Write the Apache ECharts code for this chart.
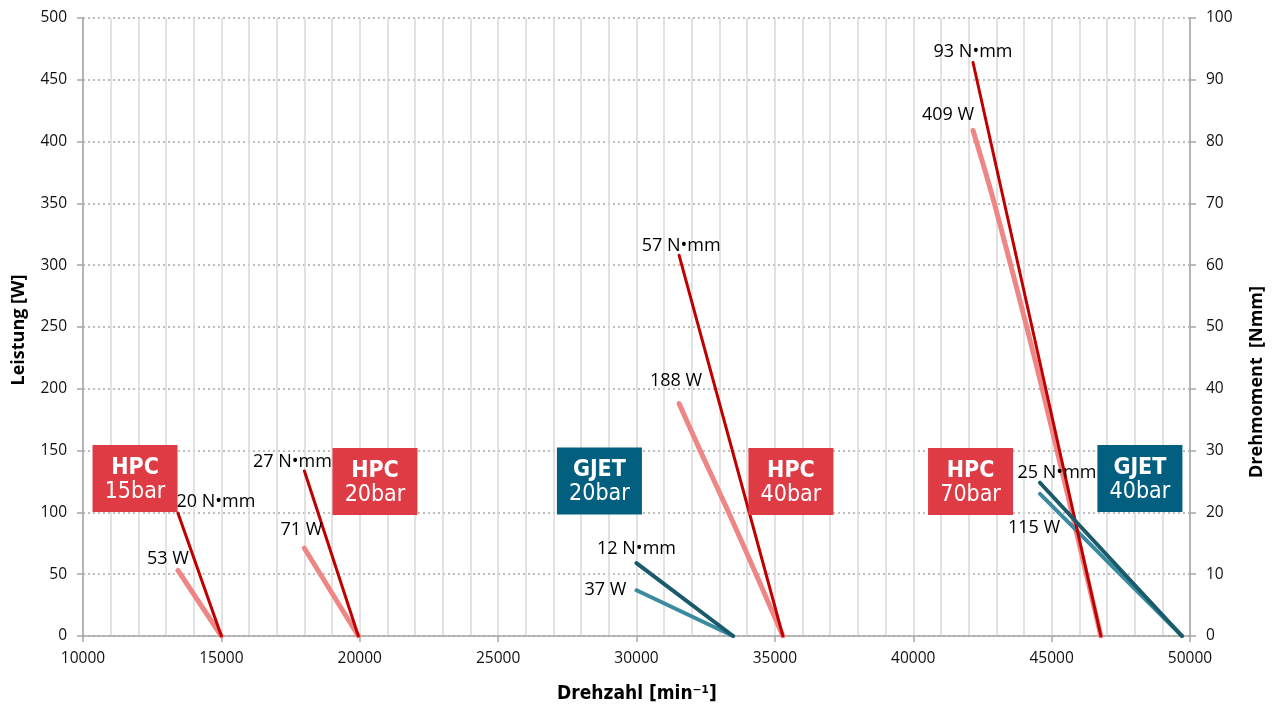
<!DOCTYPE html>
<html><head><meta charset="utf-8">
<script src="https://cdn.jsdelivr.net/npm/echarts@6/dist/echarts.min.js"></script>
<style>html,body{margin:0;padding:0;background:#fff}#c{width:1277px;height:706px}</style>
</head><body><div id="c"></div>
<script>
// ---- data (x = Drehzahl [min-1], power in W on left axis, torque in Nmm on right axis)
const xTicks = [10000, 15000, 20000, 25000, 30000, 35000, 40000, 45000, 50000];
const hpc15TorqueX = [13430, 15000], hpc15Torque = [19.9, 0];
const hpc15PowerX  = [13430, 15000], hpc15Power  = [53, 0];
const hpc20TorqueX = [18000, 19950], hpc20Torque = [26.7, 0];
const hpc20PowerX  = [18000, 19950], hpc20Power  = [71, 0];
const hpc40TorqueX = [31540, 35290], hpc40Torque = [61.6, 0];
const hpc40PowerX  = [31540, 32300, 33330, 34320, 35290], hpc40Power = [188, 150, 100, 50, 0];
const gjet20TorqueX = [30000, 33490], gjet20Torque = [11.8, 0];
const gjet20PowerX  = [30000, 33490], gjet20Power  = [37, 0];
const hpc70TorqueX = [42160, 46780], hpc70Torque = [92.8, 0];
const hpc70PowerX  = [42160, 42930, 44660, 46780], hpc70Power = [409, 350, 200, 0];
const gjet40TorqueX = [44580, 49710], gjet40Torque = [24.8, 0];
const gjet40PowerX  = [44580, 49710], gjet40Power  = [115, 0];

const torqueLabels = ['20 N•mm', '27 N•mm', '57 N•mm', '12 N•mm', '93 N•mm', '25 N•mm'];
const powerLabels  = ['53 W', '71 W', '188 W', '37 W', '409 W', '115 W'];

const boxTitles = ['HPC', 'HPC', 'GJET', 'HPC', 'HPC', 'GJET'];
const boxSubs   = ['15bar', '20bar', '20bar', '40bar', '70bar', '40bar'];
const boxX      = [11880, 20550, 28660, 35580, 42070, 48190];
const boxY      = [127.4, 125, 125.4, 125, 125, 127.4];

// ---- styling
const C_TQ_HPC = '#c00000', C_PW_HPC = '#ef8686';
const C_TQ_GJ = '#1a5a6b', C_PW_GJ = '#3a8aa0';
const C_BOX_HPC = '#de3b45', C_BOX_GJ = '#035f80';
const FONT = "'Open Sans', 'Noto Sans', sans-serif";
const COND = "'Liberation Sans Narrow', 'DejaVu Sans Condensed', 'Roboto', sans-serif";

const zip = (xs, ys) => xs.map((x, i) => [x, ys[i]]);
const groups = [
  {tx: hpc15TorqueX, t: hpc15Torque, px: hpc15PowerX, p: hpc15Power, gj: false},
  {tx: hpc20TorqueX, t: hpc20Torque, px: hpc20PowerX, p: hpc20Power, gj: false},
  {tx: hpc40TorqueX, t: hpc40Torque, px: hpc40PowerX, p: hpc40Power, gj: false},
  {tx: gjet20TorqueX, t: gjet20Torque, px: gjet20PowerX, p: gjet20Power, gj: true},
  {tx: hpc70TorqueX, t: hpc70Torque, px: hpc70PowerX, p: hpc70Power, gj: false},
  {tx: gjet40TorqueX, t: gjet40Torque, px: gjet40PowerX, p: gjet40Power, gj: true}
];
const tqOffsets = [[38, -11], [-12, -9], [2, -9], [0, -14], [0, -11], [17, -10]];
const pwOffsets = [[-10, -12], [-3, -18], [-3, -23], [-31, 0], [-25, -16], [-6, 34]];

const series = [];
groups.forEach((g, i) => {
  series.push({type: 'line', yAxisIndex: 0, data: zip(g.px, g.p), smooth: 0.3, symbol: 'none',
    lineStyle: {color: g.gj ? C_PW_GJ : C_PW_HPC, width: g.gj ? 4 : 5, cap: 'round'}, z: 3, silent: true});
  series.push({type: 'line', yAxisIndex: 1, data: zip(g.tx, g.t), symbol: 'none',
    lineStyle: {color: g.gj ? C_TQ_GJ : C_TQ_HPC, width: g.gj ? 4 : 3, cap: 'round'}, z: 4, silent: true});
});
const lblStyle = {color: '#000', fontSize: 18, fontFamily: FONT, opacity: 1};
// annotation labels at the start of each curve
series.push({type: 'scatter', yAxisIndex: 0, symbolSize: 0, z: 6, silent: true, itemStyle: {opacity: 1},
  data: groups.map((g, i) => ({value: [g.px[0], g.p[0]],
    label: {show: true, position: 'inside', offset: pwOffsets[i], formatter: powerLabels[i]}})),
  label: lblStyle});
series.push({type: 'scatter', yAxisIndex: 1, symbolSize: 0, z: 6, silent: true, itemStyle: {opacity: 1},
  data: groups.map((g, i) => ({value: [g.tx[0], g.t[0]],
    label: {show: true, position: 'inside', offset: tqOffsets[i], formatter: torqueLabels[i]}})),
  label: lblStyle});
// boxes
series.push({type: 'scatter', yAxisIndex: 0, symbolSize: 0, z: 10, silent: true, itemStyle: {opacity: 1},
  data: boxX.map((x, i) => ({value: [x, boxY[i]],
    label: {show: true, position: 'inside', opacity: 1, backgroundColor: boxTitles[i] === 'GJET' ? C_BOX_GJ : C_BOX_HPC,
      width: 85, padding: [11, 0, 8, 0], align: 'center',
      formatter: '{a|' + boxTitles[i] + '}\n{b|' + boxSubs[i] + '}',
      rich: {a: {color: '#fff', fontSize: 23, fontWeight: 'bold', fontFamily: COND, lineHeight: 24, align: 'center', width: 85},
             b: {color: '#fff', fontSize: 23, fontFamily: COND, lineHeight: 24, align: 'center', width: 85}}}}))});

const axisGray = '#a6a6a6';
const plain = v => String(v);
const option = {
  animation: false,
  backgroundColor: '#fff',
  grid: {left: 83, right: 87, top: 18, bottom: 70, containLabel: false},
  xAxis: {type: 'value', min: xTicks[0], max: xTicks[xTicks.length - 1], interval: 5000,
    axisLine: {lineStyle: {color: axisGray, width: 1.5}},
    axisTick: {show: true, length: 6, lineStyle: {color: axisGray, width: 1.5}},
    axisLabel: {color: '#111', fontSize: 15.5, fontFamily: FONT, margin: 15, formatter: plain},
    splitLine: {show: true, lineStyle: {color: '#d9d9d9', width: 1.5}},
    minorTick: {show: false, splitNumber: 5},
    minorSplitLine: {show: true, lineStyle: {color: '#d9d9d9', width: 1.5}}},
  yAxis: [
    {type: 'value', min: 0, max: 500, interval: 50, position: 'left',
      axisLine: {show: true, lineStyle: {color: axisGray, width: 1.5}},
      axisTick: {show: true, length: 6, lineStyle: {color: axisGray, width: 1.5}},
      axisLabel: {color: '#111', fontSize: 15.5, fontFamily: FONT, margin: 16, formatter: plain},
      splitLine: {show: true, lineStyle: {color: '#a8a8a8', width: 1.5, type: [2, 3]}}},
    {type: 'value', min: 0, max: 100, interval: 10, position: 'right',
      axisLine: {show: true, lineStyle: {color: axisGray, width: 1.5}},
      axisTick: {show: true, length: 6, lineStyle: {color: axisGray, width: 1.5}},
      axisLabel: {color: '#111', fontSize: 15.5, fontFamily: FONT, margin: 16, formatter: plain},
      splitLine: {show: false}}
  ],
  graphic: [
    {type: 'text', x: 637, y: 694, style: {text: 'Drehzahl [min⁻¹]', fill: '#000', font: 'bold 19px ' + COND, align: 'center', verticalAlign: 'middle'}},
    {type: 'text', x: 19, y: 330, rotation: Math.PI / 2, style: {text: 'Leistung [W]', fill: '#000', font: 'bold 18px ' + FONT, align: 'center', verticalAlign: 'middle'}},
    {type: 'text', x: 1257, y: 382, rotation: Math.PI / 2, style: {text: 'Drehmoment  [Nmm]', fill: '#000', font: 'bold 18px ' + FONT, align: 'center', verticalAlign: 'middle'}}
  ],
  series: series
};
const chart = echarts.init(document.getElementById('c'), null, {renderer: 'canvas'});
chart.setOption(option);
</script></body></html>
